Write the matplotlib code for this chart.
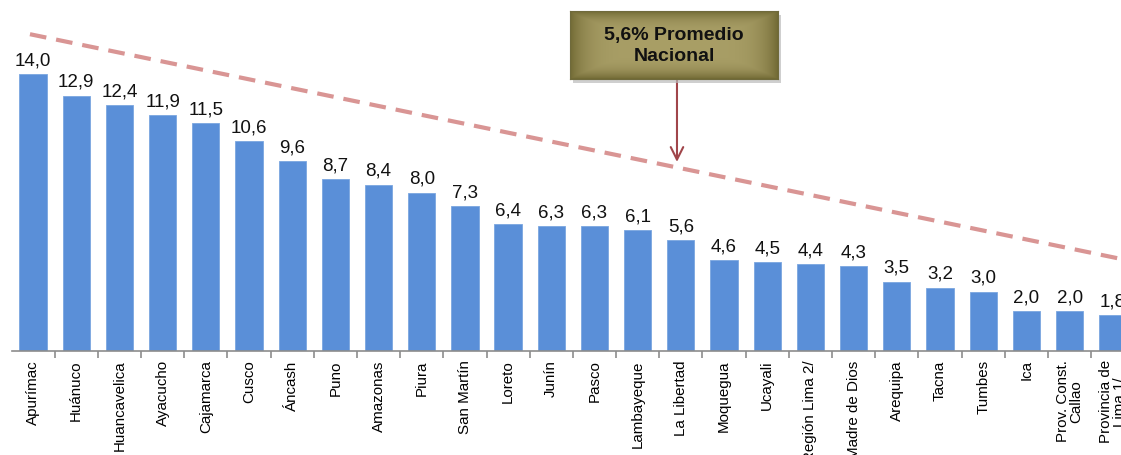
import numpy as np
import matplotlib
matplotlib.use('Agg')
import matplotlib.pyplot as plt
from matplotlib.patches import Rectangle

plt.rcParams['font.family'] = ['Liberation Sans', 'DejaVu Sans']

regiones = ['Apurímac', 'Huánuco', 'Huancavelica', 'Ayacucho', 'Cajamarca', 'Cusco',
            'Áncash', 'Puno', 'Amazonas', 'Piura', 'San Martín', 'Loreto', 'Junín',
            'Pasco', 'Lambayeque', 'La Libertad', 'Moquegua', 'Ucayali',
            'Región Lima 2/', 'Madre de Dios', 'Arequipa', 'Tacna', 'Tumbes', 'Ica',
            'Prov. Const.\nCallao', 'Provincia de\nLima 1/']
valores = [14.0, 12.9, 12.4, 11.9, 11.5, 10.6, 9.6, 8.7, 8.4, 8.0, 7.3, 6.4, 6.3,
           6.3, 6.1, 5.6, 4.6, 4.5, 4.4, 4.3, 3.5, 3.2, 3.0, 2.0, 2.0, 1.8]

# decorative trend line (start / end heights) and the national average pointer
tendencia_x = [-0.07, 25.19]
tendencia_y = [16.0, 4.65]
promedio_txt = '5,6% Promedio\nNacional'
flecha_x = 14.91
flecha_y = 9.55

fig = plt.figure(figsize=(11.21, 4.56), dpi=100)
ax = fig.add_axes([12 / 1121, 104 / 456, 1 - 12 / 1121, 352 / 456])

x = np.arange(len(regiones))
bars = ax.bar(x, valores, width=0.63, color='#5a8fd8', edgecolor='#7aa6e0', linewidth=0.6, zorder=2)

for xi, v in zip(x, valores):
    ax.annotate(('%.1f' % v).replace('.', ','), (xi, v), xytext=(0, 7),
                textcoords='offset points', ha='center', va='baseline',
                fontsize=13.5, color='#111111')

ax.plot(tendencia_x, tendencia_y, color='#d99594', linewidth=3, dashes=(4, 2.4),
        zorder=3, solid_capstyle='butt')

for s in ['top', 'right', 'left']:
    ax.spines[s].set_visible(False)
ax.spines['bottom'].set_color('#8c8c8c')
ax.spines['bottom'].set_linewidth(1.2)
ax.set_yticks([])
ax.set_xticks(x)
ax.set_xticklabels(regiones, rotation=90, fontsize=10.9, ha='center', va='top',
                   linespacing=1.0)
ax.tick_params(axis='x', which='major', length=0, pad=6)
ax.set_xticks(np.arange(-0.5, len(regiones), 1.0), minor=True)
ax.tick_params(axis='x', which='minor', length=5, width=1.2, color='#8c8c8c')

ax.set_xlim(-0.486, 25.19)
ax.set_ylim(0, 352 / 19.8)

# pointer box
bx0, bx1 = 570 / 1121, 778 / 1121
by0, by1 = 1 - 80 / 456, 1 - 12 / 456
shadow = Rectangle((bx0 + 0.003, by0 - 0.008), bx1 - bx0, by1 - by0,
                   transform=fig.transFigure, facecolor='#bbbbbb', edgecolor='none',
                   alpha=0.7, zorder=4)
fig.patches.append(shadow)
bax = fig.add_axes([bx0, by0, bx1 - bx0, by1 - by0], zorder=5)
gx = np.linspace(-1, 1, 200)
gy = np.linspace(-1, 1, 60)
GX, GY = np.meshgrid(gx, gy)
d = np.maximum(np.abs(GX) ** 6, np.abs(GY) ** 4)
c_in = np.array([0.66, 0.62, 0.40])
c_out = np.array([0.45, 0.42, 0.21])
img = c_in[None, None, :] * (1 - d[..., None]) + c_out[None, None, :] * d[..., None]
bax.imshow(img, aspect='auto', extent=[0, 1, 0, 1])
bax.set_xticks([])
bax.set_yticks([])
for s in bax.spines.values():
    s.set_color('#6f6a3c')
bax.text(0.5, 0.5, promedio_txt, ha='center', va='center', fontsize=14,
         fontweight='bold', color='#111111', linespacing=1.25, transform=bax.transAxes)

ax.annotate('', xy=(flecha_x, flecha_y), xycoords='data',
            xytext=(flecha_x, 352 / 19.8 - 80 / 19.8), textcoords='data',
            arrowprops=dict(arrowstyle='->,head_length=0.9,head_width=0.45',
                            color='#a0454a', lw=1.5, shrinkA=0, shrinkB=0),
            zorder=4, annotation_clip=False)

fig.savefig('out.png', dpi=100)
